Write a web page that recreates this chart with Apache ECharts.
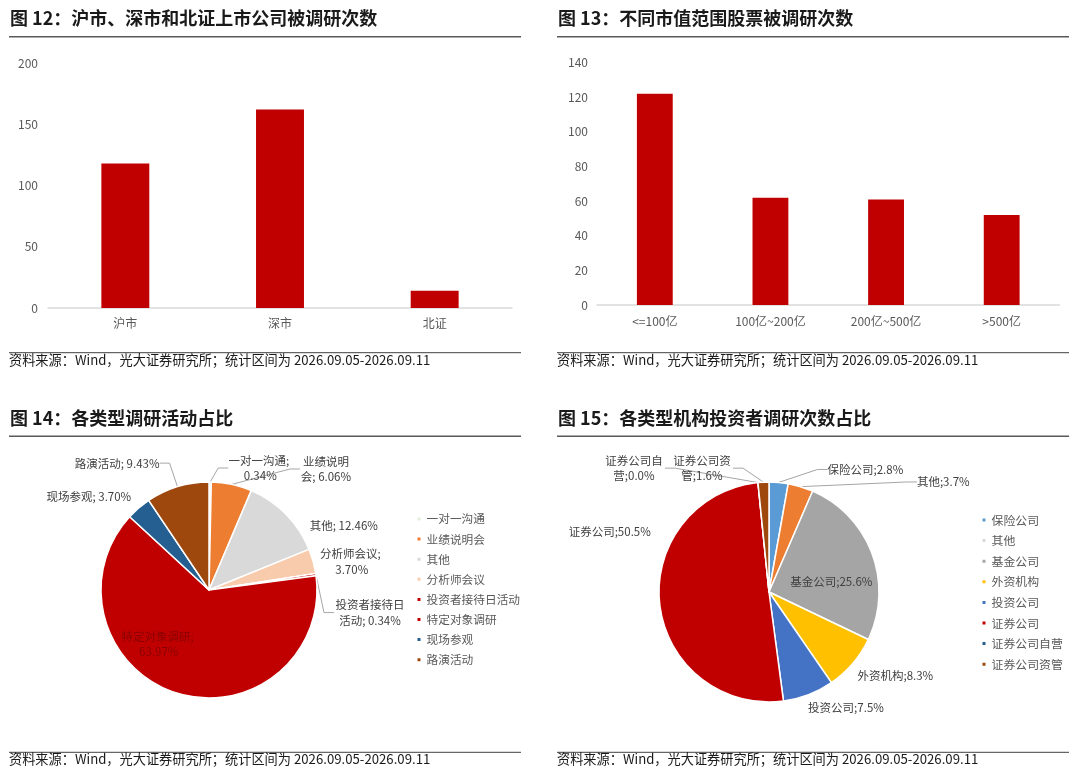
<!DOCTYPE html>
<html>
<head>
<meta charset="utf-8">
<script src="https://cdn.jsdelivr.net/npm/echarts@6/dist/echarts.min.js"></script>
<style>
html,body{margin:0;padding:0;background:#fff;}
#main{width:1080px;height:780px;}
</style>
</head>
<body>
<div id="main"></div>
<script>
// ---- Data ----
var marketCategories = ['沪市', '深市', '北证'];
var marketValues = [118, 162, 14];

var capCategories = ['<=100亿', '100亿~200亿', '200亿~500亿', '>500亿'];
var capValues = [122, 62, 61, 52];

var activityNames = ['一对一沟通', '业绩说明会', '其他', '分析师会议', '投资者接待日活动', '特定对象调研', '现场参观', '路演活动'];
var activityShares = [0.34, 6.06, 12.46, 3.70, 0.34, 63.97, 3.70, 9.43];

var investorNames = ['保险公司', '其他', '基金公司', '外资机构', '投资公司', '证券公司', '证券公司自营', '证券公司资管'];
var investorShares = [2.8, 3.7, 25.6, 8.3, 7.5, 50.5, 0.0, 1.6];

var titles = ['图 12：沪市、深市和北证上市公司被调研次数', '图 13：不同市值范围股票被调研次数', '图 14：各类型调研活动占比', '图 15：各类型机构投资者调研次数占比'];
var sourceText = '资料来源：Wind，光大证券研究所；统计区间为 2026.09.05-2026.09.11';

// ---- Styles ----
var FONT = '"Noto Sans CJK SC", "Noto Sans", sans-serif';
var RED = '#C00000';
var activityColors = ['#E2EFDA', '#ED7D31', '#D9D9D9', '#F8CBAD', '#C00000', '#C00000', '#255E91', '#9E480E'];
var investorColors = ['#5B9BD5', '#ED7D31', '#A5A5A5', '#FFC000', '#4472C4', '#C00000', '#255E91', '#9E480E'];
// label widths (for Excel-like wrapping)
var activityLabelWidth = {0: 64, 1: 52, 3: 68, 4: 72, 5: 82};
var investorLabelWidth = {6: 62, 7: 62};
// label nudges [dx, dy, centered]
var activityNudge = {0: [3, -4, 1], 1: [-1, -36, 1], 2: [-11, -5], 3: [-15, 3, 1], 4: [-3, 21, 1], 6: [14, -4], 7: [0, -14]};
var investorNudge = {0: [33, -3], 1: [74, -8], 3: [-14, 6], 4: [-19, 4], 5: [11, -74], 6: [-11, -37, 1], 7: [-15, -4, 1]};
var activityNoLine = {2: 1, 3: 1, 6: 1};
var investorNoLine = {3: 1, 4: 1, 5: 1};

var chart = echarts.init(document.getElementById('main'), null, {renderer: 'canvas'});

function panelGraphics(x1, x2, titleY, lineY, footLineY, footTextY, title) {
  return [
    {type: 'text', left: x1 + 1, top: titleY - 11, style: {text: title, font: 'bold 18px ' + FONT, fill: '#1a1a1a'}},
    {type: 'line', shape: {x1: x1, y1: lineY, x2: x2, y2: lineY}, style: {stroke: '#595959', lineWidth: 1.6}},
    {type: 'line', shape: {x1: x1, y1: footLineY, x2: x2, y2: footLineY}, style: {stroke: '#404040', lineWidth: 1}},
    {type: 'text', left: x1, top: footTextY - 8, style: {text: sourceText, font: '13.2px ' + FONT, fill: '#1a1a1a'}}
  ];
}

var graphics = []
  .concat(panelGraphics(9, 521, 20, 36.7, 352.7, 361.7, titles[0]))
  .concat(panelGraphics(557, 1069, 20, 36.7, 352.7, 361.7, titles[1]))
  .concat(panelGraphics(9, 521, 420, 436.3, 752.3, 760.7, titles[2]))
  .concat(panelGraphics(557, 1069, 420, 436.3, 752.3, 760.7, titles[3]));

var axisLabelStyle = {color: '#595959', fontSize: 12, fontFamily: FONT};

function pieData(names, values, colors, widths, noLine) {
  return names.map(function (n, i) {
    var item = {name: n, value: values[i], itemStyle: {color: colors[i]}};
    if (widths[i]) item.label = {width: widths[i], overflow: 'break'};
    if (noLine && noLine[i]) item.labelLine = {show: false};
    return item;
  });
}

function nudger(table) {
  return function (params) {
    var d = table[params.dataIndex];
    var r = params.labelRect;
    if (!d || !r) return {};
    var align = params.align || 'left';
    var valign = params.verticalAlign || 'middle';
    var ax = align === 'right' ? r.x + r.width : (align === 'center' ? r.x + r.width / 2 : r.x);
    var ay = valign === 'bottom' ? r.y + r.height : (valign === 'middle' ? r.y + r.height / 2 : r.y);
    var out = {x: ax + d[0], y: ay + d[1], align: align, verticalAlign: valign};
    if (d[2]) {
      out.align = 'center';
      out.x = r.x + r.width / 2 + d[0];
    }
    return out;
  };
}

var actData = pieData(activityNames, activityShares, activityColors, activityLabelWidth, activityNoLine);
actData[5].label = Object.assign(actData[5].label || {}, {position: 'inside', color: '#8a0000', offset: [-33, 0], align: 'center'});
var invData = pieData(investorNames, investorShares, investorColors, investorLabelWidth, investorNoLine);
invData[2].label = {position: 'inside', color: '#404040', offset: [8, 10]};

var legendText = {lineHeight: 14, color: '#595959', fontFamily: FONT};

var option = {
  animation: false,
  backgroundColor: '#fff',
  textStyle: {fontFamily: FONT},
  graphic: graphics,
  grid: [
    {left: 48, right: 568, top: 63, bottom: 472, containLabel: false},
    {left: 597, right: 20.5, top: 62.7, bottom: 475, containLabel: false}
  ],
  xAxis: [
    {type: 'category', gridIndex: 0, data: marketCategories,
     axisLine: {lineStyle: {color: '#D9D9D9', width: 1.5}}, axisTick: {show: false},
     axisLabel: Object.assign({margin: 9}, axisLabelStyle)},
    {type: 'category', gridIndex: 1, data: capCategories,
     axisLine: {lineStyle: {color: '#D9D9D9', width: 1.5}}, axisTick: {show: false},
     axisLabel: Object.assign({margin: 10}, axisLabelStyle)}
  ],
  yAxis: [
    {type: 'value', gridIndex: 0, min: 0, max: 200, interval: 50,
     axisLine: {show: false}, axisTick: {show: false}, splitLine: {show: false},
     axisLabel: Object.assign({margin: 10}, axisLabelStyle)},
    {type: 'value', gridIndex: 1, min: 0, max: 140, interval: 20,
     axisLine: {show: false}, axisTick: {show: false}, splitLine: {show: false},
     axisLabel: Object.assign({margin: 9}, axisLabelStyle)}
  ],
  legend: [
    {data: activityNames, orient: 'vertical', left: 410.5, top: 507, icon: 'rect',
     itemWidth: 5, itemHeight: 5, itemGap: 6.1,
     textStyle: Object.assign({fontSize: 11.7}, legendText)},
    {data: investorNames, orient: 'vertical', left: 975.5, top: 508, icon: 'rect',
     itemWidth: 5, itemHeight: 5, itemGap: 6.6,
     textStyle: Object.assign({fontSize: 11.9}, legendText)}
  ],
  series: [
    {type: 'bar', xAxisIndex: 0, yAxisIndex: 0, data: marketValues, barWidth: '31%',
     itemStyle: {color: RED}},
    {type: 'bar', xAxisIndex: 1, yAxisIndex: 1, data: capValues, barWidth: '31%',
     itemStyle: {color: RED}},
    {type: 'pie', name: 'activity', center: [209, 590], radius: 108, startAngle: 90, clockwise: true,
     data: actData,
     itemStyle: {borderColor: '#fff', borderWidth: 1.5},
     label: {formatter: function (p) { return p.name + '; ' + p.value.toFixed(2) + '%'; },
       fontSize: 11.5, lineHeight: 15.5, color: '#404040', fontFamily: FONT},
     labelLine: {lineStyle: {color: '#A6A6A6', width: 1}, length: 10, length2: 10},
     labelLayout: nudger(activityNudge)},
    {type: 'pie', name: 'investor', center: [769, 592], radius: 110, startAngle: 90, clockwise: true,
     data: invData,
     itemStyle: {borderColor: '#fff', borderWidth: 1.5},
     label: {formatter: function (p) { return p.name + ';' + p.value.toFixed(1) + '%'; },
       fontSize: 11.5, lineHeight: 15.5, color: '#404040', fontFamily: FONT},
     labelLine: {lineStyle: {color: '#A6A6A6', width: 1}, length: 10, length2: 10},
     labelLayout: nudger(investorNudge)}
  ]
};
chart.setOption(option);
</script>
</body>
</html>
